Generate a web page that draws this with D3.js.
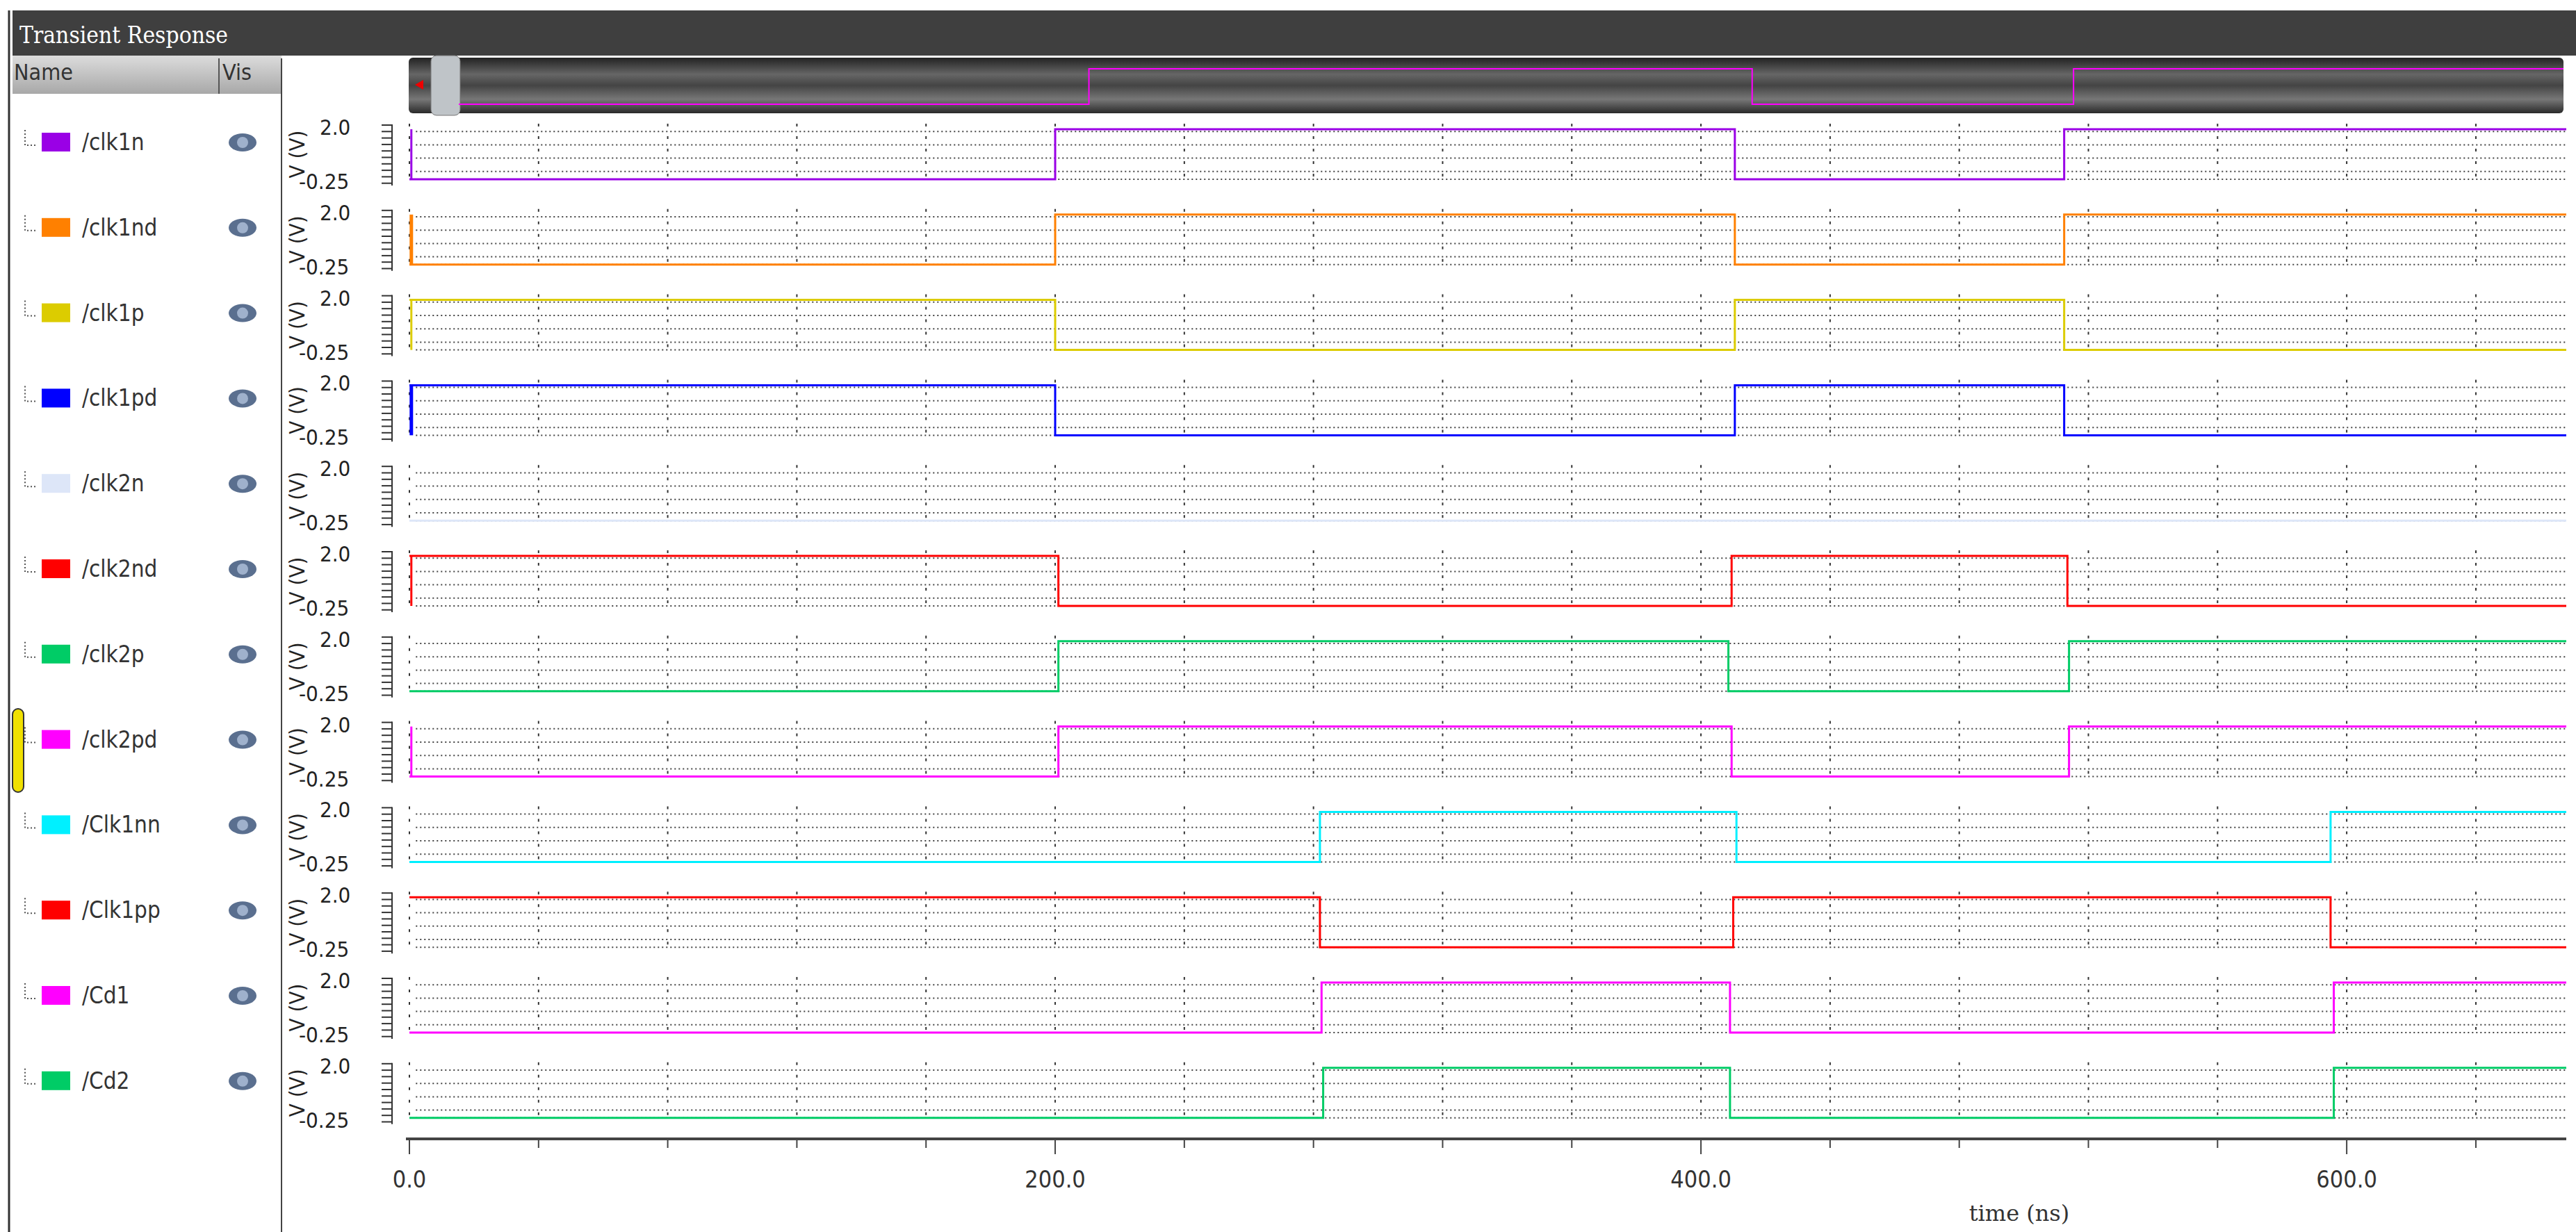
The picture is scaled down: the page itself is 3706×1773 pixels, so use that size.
<!DOCTYPE html>
<html><head><meta charset="utf-8">
<script src="https://cdn.jsdelivr.net/npm/d3@7"></script>
<style>body{margin:0;background:#fff}svg{display:block}</style>
</head><body>
<script>
const signals = ["/clk1n","/clk1nd","/clk1p","/clk1pd","/clk2n","/clk2nd","/clk2p","/clk2pd","/Clk1nn","/Clk1pp","/Cd1","/Cd2"];
const colors = ["#9a00e6","#ff8000","#dccc00","#0000ff","#dde6f8","#ff0000","#00cc66","#ff00ff","#00f0ff","#ff0000","#ff00ff","#00cc66"];
const initialHigh = [0,0,1,1,0,1,0,0,0,1,0,0];
const transitions = [
  [200,410.5,512.5],[200,410.5,512.5],[200,410.5,512.5],[200,410.5,512.5],[],
  [201,409.5,513.5],[201,408.5,514],[201,409.5,514],
  [282,411,595],[282,410,595],[282.5,409,596],[283,409,596]];
const highV = 1.8, lowV = 0;
const xTickLabels = [0,200,400,600];
const yTickLabels = ["2.0","-0.25"];
const yGridVals = [0,0.28,0.76,1.24,1.72];

const W=3706,H=1773;
const svg=d3.select("body").append("svg").attr("width",W).attr("height",H);
const font="'Liberation Sans Narrow','DejaVu Sans Condensed',sans-serif";
const tEnd=668;
const x=d3.scaleLinear().domain([0,tEnd]).range([589,3692]);
const pitch=122.8;
const rowTop=i=>178+i*pitch;
const y=d3.scaleLinear().domain([-0.25,2.0]).range([90,0]);

svg.append("rect").attr("x",18).attr("y",15).attr("width",W-18).attr("height",65).attr("fill","#3f3f3f");
svg.append("text").attr("x",28).attr("y",62).attr("fill","#fff").attr("font-family","'DejaVu Serif',serif").attr("font-size",34).attr("textLength",300).attr("lengthAdjust","spacingAndGlyphs").text("Transient Response");
svg.append("line").attr("x1",13).attr("x2",13).attr("y1",15).attr("y2",H).attr("stroke","#333").attr("stroke-width",3);
const g1=svg.append("defs").append("linearGradient").attr("id","hg").attr("x1",0).attr("x2",0).attr("y1",0).attr("y2",1);
g1.append("stop").attr("offset",0).attr("stop-color","#dcdcdc");g1.append("stop").attr("offset",1).attr("stop-color","#a8a8a8");
svg.append("rect").attr("x",18).attr("y",80).attr("width",387).attr("height",55).attr("fill","url(#hg)");
svg.append("line").attr("x1",315).attr("x2",315).attr("y1",84).attr("y2",135).attr("stroke","#555").attr("stroke-width",2);
svg.append("text").attr("x",20).attr("y",115).attr("font-family",font).attr("font-size",32).attr("fill","#333").text("Name");
svg.append("text").attr("x",320).attr("y",115).attr("font-family",font).attr("font-size",32).attr("fill","#333").text("Vis");
svg.append("line").attr("x1",405).attr("x2",405).attr("y1",84).attr("y2",H).attr("stroke","#444").attr("stroke-width",2);

const sg=svg.select("defs").append("linearGradient").attr("id","sg").attr("x1",0).attr("x2",0).attr("y1",0).attr("y2",1);
[["0","#222"],["0.3","#666"],["0.5","#444"],["0.75","#777"],["1","#2a2a2a"]].forEach(s=>sg.append("stop").attr("offset",s[0]).attr("stop-color",s[1]));
svg.append("rect").attr("x",588).attr("y",83).attr("width",3100).attr("height",80).attr("fill","url(#sg)").attr("rx",6);
svg.append("rect").attr("x",620).attr("y",80).attr("width",42).attr("height",86).attr("fill","#bfc4c8").attr("stroke","#777").attr("rx",8);
svg.append("path").attr("d","M597,122 l12,-7 v14z").attr("fill","#e00");
const xs=d3.scaleLinear().domain([0,tEnd]).range([660,3688]);
const ys=d3.scaleLinear().domain([lowV,highV]).range([150,99]);
function pts(i){const p=[[0,initialHigh[i]?highV:lowV]];let s=initialHigh[i];transitions[i].forEach(t=>{s=1-s;p.push([t,s?highV:lowV]);});p.push([tEnd,p[p.length-1][1]]);return p;}
svg.append("path").attr("d",d3.line().x(d=>xs(d[0])).y(d=>ys(d[1])).curve(d3.curveStepAfter)(pts(0))).attr("fill","none").attr("stroke","#ff00ff").attr("stroke-width",2);

const minorT=d3.range(0,tEnd,40);
signals.forEach((name,i)=>{
  const top=rowTop(i);
  const g=svg.append("g").attr("transform",`translate(0,${top})`);
  const cy=y(0.9);
  const ly=cy-19;
  g.append("path").attr("d",`M36,${ly-16} V${ly+6} H52`).attr("fill","none").attr("stroke","#555").attr("stroke-width",2).attr("stroke-dasharray","2,3");
  g.append("rect").attr("x",60).attr("y",ly-12).attr("width",41).attr("height",27).attr("fill",colors[i]);
  g.append("text").attr("x",118).attr("y",ly+13).attr("font-family",font).attr("font-size",33).attr("fill","#333").text(name);
  g.append("ellipse").attr("cx",349).attr("cy",ly+2).attr("rx",20).attr("ry",13).attr("fill","#5a6f8f");
  g.append("ellipse").attr("cx",349).attr("cy",ly+2).attr("rx",8).attr("ry",8).attr("fill","#9fb1cc");
  g.append("text").attr("transform",`translate(${438},${cy}) rotate(-90)`).attr("text-anchor","middle").attr("font-family",font).attr("font-size",31).attr("fill","#222").text("V (V)");
  g.append("text").attr("x",460).attr("y",y(2.0)+16).attr("font-family",font).attr("font-size",31).attr("fill","#222").text(yTickLabels[0]);
  g.append("text").attr("x",430).attr("y",y(-0.25)+4).attr("font-family",font).attr("font-size",31).attr("fill","#222").text(yTickLabels[1]);
  g.append("line").attr("x1",564).attr("x2",564).attr("y1",y(2.0)+1).attr("y2",y(-0.25)-1).attr("stroke","#333").attr("stroke-width",2);
  d3.range(0,10).forEach(k=>g.append("line").attr("x1",549).attr("x2",564).attr("y1",y(2.0)+2+k*9.3).attr("y2",y(2.0)+2+k*9.3).attr("stroke","#333").attr("stroke-width",2));
  yGridVals.forEach(v=>g.append("line").attr("x1",x(2)).attr("x2",x(tEnd)).attr("y1",y(v)).attr("y2",y(v)).attr("stroke","#444").attr("stroke-width",2).attr("stroke-dasharray","2,4"));
  minorT.forEach(t=>g.append("line").attr("x1",x(t)).attr("x2",x(t)).attr("y1",y(2.0)).attr("y2",y(-0.25)).attr("stroke","#333").attr("stroke-width",2).attr("stroke-dasharray","4,14"));
  g.append("path").attr("d",d3.line().x(d=>x(d[0])).y(d=>y(d[1])).curve(d3.curveStepAfter)(pts(i))).attr("fill","none").attr("stroke",colors[i]).attr("stroke-width",3);
  if(i<4||i===5||i===7) g.append("line").attr("x1",x(0.6)).attr("x2",x(0.6)).attr("y1",y(highV)).attr("y2",y(lowV)).attr("stroke",colors[i]).attr("stroke-width",i===1||i===3?5:3);
});
svg.append("rect").attr("x",18).attr("y",1020).attr("width",16).attr("height",120).attr("rx",8).attr("fill","#f0e000").attr("stroke","#333").attr("stroke-width",2);

const ax=svg.append("g").attr("transform","translate(0,1639)");
ax.append("line").attr("x1",x(0)-5).attr("x2",x(tEnd)).attr("stroke","#444").attr("stroke-width",4);
minorT.forEach(t=>ax.append("line").attr("x1",x(t)).attr("x2",x(t)).attr("y1",0).attr("y2",t%200===0?22:13).attr("stroke","#444").attr("stroke-width",2));
xTickLabels.forEach(t=>ax.append("text").attr("x",x(t)).attr("y",70).attr("text-anchor","middle").attr("font-family",font).attr("font-size",34).attr("fill","#333").text(d3.format(".1f")(t)));
svg.append("text").attr("x",2905).attr("y",1757).attr("text-anchor","middle").attr("font-family","'DejaVu Serif',serif").attr("font-size",32).attr("fill","#333").text("time (ns)");
</script>
</body></html>
